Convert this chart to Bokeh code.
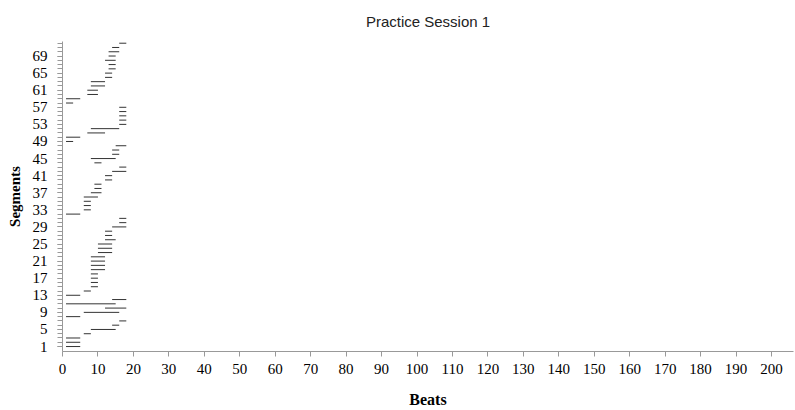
from bokeh.plotting import figure
from bokeh.models import FixedTicker, Range1d
from bokeh.embed import file_html
from bokeh.resources import INLINE

# Data: segment index, start beat, end beat
segments = list(range(1, 73))
start_beats = [1, 1, 1, 6, 8, 14, 16, 1, 6, 12,
               1, 14, 1, 6, 8, 8, 8, 8, 8, 8,
               8, 8, 10, 10, 10, 12, 12, 12, 14, 16,
               16, 1, 6, 6, 6, 6, 8, 9, 9, 12,
               12, 14, 16, 9, 8, 14, 14, 15, 1, 1,
               7, 8, 16, 16, 16, 16, 16, 1, 1, 7,
               7, 8, 8, 12, 12, 13, 13, 12, 13, 13,
               14, 16]
end_beats = [5, 5, 5, 8, 15, 16, 18, 5, 16, 18,
             15, 18, 5, 8, 10, 10, 10, 10, 12, 12,
             12, 12, 14, 14, 14, 15, 14, 14, 18, 18,
             18, 5, 8, 8, 8, 10, 11, 11, 11, 14,
             14, 18, 18, 11, 15, 16, 16, 18, 3, 5,
             12, 16, 18, 18, 18, 18, 18, 3, 5, 10,
             10, 12, 12, 14, 14, 15, 15, 15, 15, 16,
             16, 18]
x_ticks = list(range(0, 201, 10))
y_label_ticks = list(range(1, 70, 4))

p = figure(width=795, height=410, output_backend="svg", toolbar_location=None,
           x_range=Range1d(0, 206.2), y_range=Range1d(-0.16, 72.4),
           title="Practice Session 1",
           min_border_left=62, min_border_right=2, min_border_top=41, min_border_bottom=57)

p.segment(x0=start_beats, y0=segments, x1=end_beats, y1=segments,
          line_color="#333333", line_width=1)

p.title.align = "center"
p.title.vertical_align = "middle"
p.title.text_font = "Liberation Sans"
p.title.text_font_size = "15px"
p.title.text_font_style = "normal"
p.title.text_color = "#222222"
p.title.standoff = 21

p.xgrid.visible = False
p.ygrid.visible = False
p.outline_line_color = None
p.background_fill_color = "white"
p.border_fill_color = "white"

xa = p.xaxis[0]
xa.ticker = FixedTicker(ticks=x_ticks)
xa.axis_label = "Beats"
xa.axis_label_text_font = "Liberation Serif"
xa.axis_label_text_font_style = "bold"
xa.axis_label_text_font_size = "16px"
xa.axis_label_text_color = "black"
xa.axis_label_standoff = 14
xa.major_label_text_font = "Liberation Serif"
xa.major_label_text_font_size = "15px"
xa.major_label_text_color = "black"
xa.major_label_standoff = 7
xa.axis_line_color = "#999999"
xa.major_tick_line_color = "#999999"
xa.major_tick_out = 5
xa.major_tick_in = 0
xa.minor_tick_out = 0
xa.minor_tick_in = 0

ya = p.yaxis[0]
ya.ticker = FixedTicker(ticks=y_label_ticks, minor_ticks=segments)
ya.axis_label = "Segments"
ya.axis_label_text_font = "Liberation Serif"
ya.axis_label_text_font_style = "bold"
ya.axis_label_text_font_size = "15px"
ya.axis_label_text_color = "black"
ya.axis_label_standoff = 7
ya.major_label_text_font = "Liberation Serif"
ya.major_label_text_font_size = "15px"
ya.major_label_text_color = "black"
ya.major_label_standoff = 10
ya.axis_line_color = "#999999"
ya.major_tick_line_color = "#999999"
ya.minor_tick_line_color = "#999999"
ya.major_tick_out = 5
ya.major_tick_in = 0
ya.minor_tick_out = 5
ya.minor_tick_in = 0

open("out.html", "w").write(file_html(p, INLINE))
